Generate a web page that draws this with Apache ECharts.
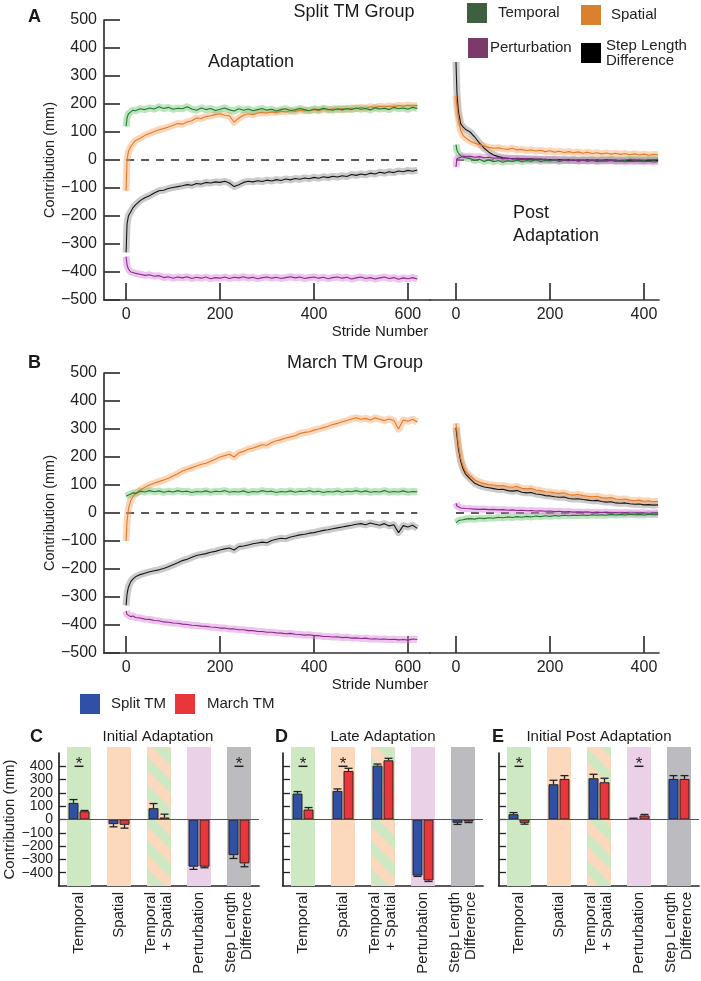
<!DOCTYPE html>
<html><head><meta charset="utf-8">
<script src="https://cdn.jsdelivr.net/npm/echarts@6/dist/echarts.min.js"></script>
<style>html,body{margin:0;padding:0;background:#fff}#c{width:701px;height:981px}</style>
</head><body><div id="c"></div>
<script>
// ---------------- DATA ----------------
const stridesAdapt = [0,2,5,10,15,20,30,40,50,60,70,80,90,100,110,120,130,140,150,160,170,180,190,200,210,220,230,240,250,260,270,280,290,300,310,320,330,340,350,360,370,380,390,400,410,420,430,440,450,460,470,480,490,500,510,520,530,540,550,560,570,580,590,600,610,620];
const stridesPost = [0,2,5,10,15,20,30,40,50,60,70,80,90,100,110,120,130,140,150,160,170,180,190,200,210,220,230,240,250,260,270,280,290,300,310,320,330,340,350,360,370,380,390,400,410,420,430];
const adaptTicks = [0,200,400,600];
const postTicks = [0,200,400];

// Panel A: Split TM group
const splitAdaptTemporal = [120,150,165,172,178,176,183,180,186,182,190,184,188,181,185,183,190,182,178,186,180,184,177,181,186,179,175,183,178,182,176,180,184,178,181,175,180,183,177,179,184,180,176,182,179,185,181,178,183,179,184,180,186,181,184,179,187,182,185,180,188,183,186,181,188,184];
const splitAdaptSpatial = [-110,0,30,48,60,70,78,88,95,102,108,112,118,124,130,128,136,140,150,148,155,158,162,165,160,158,135,150,160,165,162,168,170,168,172,170,174,172,176,173,178,175,177,180,176,181,178,183,180,184,181,186,183,188,185,190,187,192,189,193,190,195,192,196,193,195];
const splitAdaptStep = [-330,-230,-200,-185,-170,-160,-145,-135,-128,-118,-110,-108,-102,-98,-95,-92,-88,-90,-84,-86,-80,-82,-78,-80,-76,-82,-95,-88,-80,-76,-78,-74,-77,-72,-75,-70,-73,-68,-71,-66,-69,-64,-67,-62,-65,-60,-63,-58,-61,-56,-59,-52,-55,-50,-53,-47,-50,-44,-47,-42,-45,-39,-42,-37,-40,-36];
const splitAdaptPert = [-345,-375,-390,-400,-402,-405,-408,-412,-410,-415,-413,-420,-417,-422,-418,-421,-417,-423,-419,-422,-418,-424,-420,-422,-418,-423,-419,-421,-417,-422,-419,-424,-420,-418,-422,-419,-423,-420,-417,-421,-418,-423,-420,-418,-422,-419,-424,-420,-418,-422,-419,-425,-421,-418,-423,-420,-425,-421,-418,-423,-420,-426,-421,-424,-420,-425];
const splitPostTemporal = [55,35,25,15,10,8,5,-2,3,-5,0,-6,-2,-8,-3,-5,0,-6,-2,-4,1,-5,-2,-3,0,-5,-1,-3,2,-4,-1,-3,1,-4,0,-2,2,-3,0,-2,3,-1,1,-2,2,0,3];
const splitPostSpatial = [230,190,150,105,88,80,68,60,55,50,45,42,44,40,38,42,36,38,34,36,32,35,30,33,28,31,27,30,26,29,24,28,23,26,22,25,21,24,20,23,19,22,18,21,17,20,19];
const splitPostStep = [350,240,175,130,118,110,100,82,60,42,28,18,12,8,6,5,4,5,3,4,2,3,1,2,0,2,-1,1,-2,0,-1,1,-2,0,-1,1,-2,0,-3,-1,-2,0,-3,-1,-2,0,-2];
const splitPostPert = [-25,5,12,10,14,12,13,10,12,8,10,6,8,5,7,4,6,3,5,2,4,1,3,0,2,-1,1,-2,0,-3,-1,-4,-2,-5,-3,-4,-2,-5,-3,-6,-4,-5,-3,-6,-4,-7,-5];

// Panel B: March TM group
const marchAdaptTemporal = [60,62,64,68,72,70,78,75,80,76,79,74,78,75,80,76,78,73,77,75,79,74,78,76,80,74,77,75,79,73,77,75,80,76,78,73,77,75,79,74,78,76,80,75,78,73,77,75,79,74,78,76,80,75,79,74,77,75,80,74,77,75,79,74,77,76];
const marchAdaptSpatial = [-100,-30,15,45,60,68,82,92,100,106,112,118,124,132,140,150,156,162,168,174,178,185,192,200,205,210,200,215,220,228,232,238,244,242,252,258,262,268,272,276,284,288,290,296,300,305,310,316,320,326,330,336,340,335,338,332,340,335,330,336,330,300,332,328,335,325];
const marchAdaptStep = [-330,-290,-265,-245,-235,-228,-220,-215,-210,-206,-203,-198,-192,-185,-178,-170,-165,-158,-152,-148,-145,-140,-137,-132,-128,-125,-132,-120,-118,-114,-110,-107,-104,-106,-98,-94,-90,-92,-86,-82,-78,-76,-72,-70,-66,-62,-60,-56,-53,-50,-47,-44,-40,-38,-42,-36,-40,-44,-38,-46,-42,-70,-45,-50,-44,-55];
const marchAdaptPert = [-350,-362,-365,-370,-368,-373,-375,-379,-380,-384,-385,-389,-390,-393,-394,-397,-398,-401,-402,-404,-405,-407,-408,-411,-411,-414,-414,-417,-417,-420,-420,-423,-423,-426,-426,-428,-429,-431,-430,-433,-434,-436,-435,-438,-438,-441,-441,-443,-442,-445,-444,-447,-446,-448,-447,-450,-449,-451,-450,-452,-451,-453,-452,-454,-450,-452];
const marchPostTemporal = [-35,-30,-28,-25,-24,-22,-20,-22,-18,-20,-17,-19,-15,-17,-14,-16,-13,-15,-12,-14,-11,-13,-10,-12,-9,-11,-8,-10,-8,-9,-7,-9,-6,-8,-6,-8,-5,-7,-5,-7,-4,-6,-5,-7,-4,-6,-5];
const marchPostSpatial = [320,290,245,195,168,150,132,118,110,105,102,100,97,98,94,92,95,88,86,88,82,80,76,75,72,70,72,66,64,66,62,60,58,60,55,53,55,50,48,50,46,44,46,42,44,40,42];
const marchPostStep = [305,275,232,185,158,140,122,106,98,93,90,87,84,85,80,78,80,74,72,73,68,66,62,61,58,56,57,52,50,51,48,46,44,45,41,39,40,36,35,36,33,31,32,29,30,28,29];
const marchPostPert = [35,25,20,18,17,16,15,14,13,14,12,13,11,12,10,11,9,10,8,9,7,8,6,7,5,6,4,5,3,4,3,4,2,3,2,3,1,2,1,2,0,1,0,1,-1,0,1];

// Bar panels C, D, E
const barCategories = ['Temporal', 'Spatial', 'Temporal\n+ Spatial', 'Perturbation', 'Step Length\nDifference'];
const barTickValues = [-400,-300,-200,-100,0,100,200,300,400];
const initialSplit = [125, -35, 85, -355, -268];
const initialSplitErr = [25, 20, 35, 20, 25];
const initialMarch = [62, -40, 15, -355, -330];
const initialMarchErr = [6, 25, 25, 8, 25];
const lateSplit = [195, 215, 405, -422, -25];
const lateSplitErr = [15, 15, 12, 6, 12];
const lateMarch = [75, 365, 445, -458, -15];
const lateMarchErr = [15, 20, 15, 8, 8];
const postSplit = [40, 265, 310, 5, 305];
const postSplitErr = [12, 30, 30, 5, 25];
const postMarch = [-25, 305, 280, 30, 305];
const postMarchErr = [10, 25, 30, 8, 25];
const sigInitial = ['Temporal', 'Step Length\nDifference'];
const sigLate = ['Temporal', 'Spatial'];
const sigPost = ['Temporal', 'Perturbation'];

// ---------------- STYLE ----------------
const FONT = '"Liberation Sans", Arial, Helvetica, sans-serif';
const AX = '#333';
const LINE_COL = {Temporal:'#1f7a35', Spatial:'#e07a2a', Perturbation:'#8b2a8c', 'Step Length Difference':'#141414'};
const SHADE_COL = {Temporal:'rgba(110,195,110,0.45)', Spatial:'rgba(248,165,100,0.45)', Perturbation:'rgba(215,125,215,0.45)', 'Step Length Difference':'rgba(140,140,140,0.45)'};
const BLUE = '#3050a6', RED = '#e8363a';

function stripePattern() {
  const s = 28;
  const c = document.createElement('canvas');
  c.width = s; c.height = s;
  const g = c.getContext('2d');
  g.fillStyle = '#fcd8bd'; g.fillRect(0, 0, s, s);
  g.strokeStyle = '#cde8c2'; g.lineWidth = s / (2 * Math.SQRT2);
  for (let k = -2; k <= 2; k++) {
    g.beginPath(); g.moveTo(k * s - s, -s); g.lineTo(k * s + 2 * s, 2 * s); g.stroke();
  }
  return {image: c, repeat: 'repeat'};
}
const BAND_FILLS = ['#cde8c2', '#fcd8bd', stripePattern(), '#ebd1e8', '#bcbcc0'];

const minus = v => (v < 0 ? '\u2212' + Math.abs(v) : String(v));
const barLabel = v => (barTickValues.indexOf(v) >= 0 ? minus(v) : '');
const pairs = (xs, ys) => xs.map((x, i) => [x, ys[i]]);

const grids = [
  {left:104, top:20, width:326, height:280},
  {left:430, top:20, width:229, height:280},
  {left:104, top:373, width:326, height:280},
  {left:430, top:373, width:229, height:280},
  {left:59, top:753, width:200, height:133},
  {left:283, top:753, width:200, height:133},
  {left:499, top:753, width:200, height:133}
];

function lineX(gi, min, max, ticks) {
  return {type:'value', gridIndex:gi, min, max,
    axisLine:{show:true, onZero:false, lineStyle:{color:AX, width:1.7}},
    axisTick:{show:true, inside:true, length:17, customValues:ticks, lineStyle:{color:AX, width:1.7}},
    axisLabel:{customValues:ticks, margin:7, fontSize:16, color:'#222', fontFamily:FONT},
    splitLine:{show:false}};
}
function lineY(gi, show) {
  return {type:'value', gridIndex:gi, min:-500, max:500, interval:100, show,
    axisLine:{show:true, onZero:false, lineStyle:{color:AX, width:1.7}},
    axisTick:{show:true, inside:true, length:16, lineStyle:{color:AX, width:1.7}},
    axisLabel:{margin:7, fontSize:16, color:'#222', fontFamily:FONT, formatter:minus},
    splitLine:{show:false},
    name:'Contribution (mm)', nameLocation:'middle', nameGap:42, nameRotate:90,
    nameTextStyle:{fontSize:14.5, color:'#222', fontFamily:FONT}};
}
function barX(gi) {
  return {type:'category', gridIndex:gi, data:barCategories,
    axisLine:{show:true, onZero:false, lineStyle:{color:'#222', width:1.7}},
    axisTick:{show:false},
    axisLabel:{rotate:90, interval:0, margin:6, fontSize:15, lineHeight:16, color:'#222', fontFamily:FONT},
    splitLine:{show:false}};
}
function barY(gi, labels) {
  return {type:'value', gridIndex:gi, min:-500, max:500, interval:100,
    axisLine:{show:true, onZero:false, lineStyle:{color:'#222', width:1.7}},
    axisTick:{show:true, inside:true, length:7, customValues:barTickValues, lineStyle:{color:'#222', width:1.3}},
    axisLabel:{show:labels, margin:6, fontSize:14, lineHeight:13, color:'#222', fontFamily:FONT, formatter:barLabel,
      hideOverlap:false, showMinLabel:true, showMaxLabel:true},
    splitLine:{show:false},
    name: labels ? 'Contribution (mm)' : '', nameLocation:'middle', nameGap:42, nameRotate:90,
    nameTextStyle:{fontSize:15, color:'#222', fontFamily:FONT}};
}

const series = [];
function addLinePanel(gi, xs, data) {
  series.push({type:'line', name:'zero', xAxisIndex:gi, yAxisIndex:gi, silent:true, symbol:'none', z:1,
    data:[[xs[0], 0], [xs[xs.length - 1], 0]], lineStyle:{color:'#222', width:1.4, type:[8, 7]}});
  const order = ['Step Length Difference', 'Spatial', 'Temporal', 'Perturbation'];
  order.forEach(k => series.push({type:'line', name:k + ' band', xAxisIndex:gi, yAxisIndex:gi, silent:true,
    symbol:'none', z:2, data:pairs(xs, data[k]), lineStyle:{color:SHADE_COL[k], width:7, join:'round'}}));
  order.forEach(k => series.push({type:'line', name:k, xAxisIndex:gi, yAxisIndex:gi, silent:true,
    symbol:'none', z:3, data:pairs(xs, data[k]), itemStyle:{color:LINE_COL[k]},
    lineStyle:{color:LINE_COL[k], width:1.1}}));
}
addLinePanel(0, stridesAdapt, {Temporal:splitAdaptTemporal, Spatial:splitAdaptSpatial, Perturbation:splitAdaptPert, 'Step Length Difference':splitAdaptStep});
addLinePanel(1, stridesPost, {Temporal:splitPostTemporal, Spatial:splitPostSpatial, Perturbation:splitPostPert, 'Step Length Difference':splitPostStep});
addLinePanel(2, stridesAdapt, {Temporal:marchAdaptTemporal, Spatial:marchAdaptSpatial, Perturbation:marchAdaptPert, 'Step Length Difference':marchAdaptStep});
addLinePanel(3, stridesPost, {Temporal:marchPostTemporal, Spatial:marchPostSpatial, Perturbation:marchPostPert, 'Step Length Difference':marchPostStep});

function addBarPanel(gi, split, splitErr, march, marchErr, sig) {
  series.push({type:'custom', name:'bands', xAxisIndex:gi, yAxisIndex:gi, silent:true, z:1,
    data:barCategories.map((c, i) => [i, 0]),
    renderItem:(p, api) => {
      const i = api.value(0);
      const top = api.coord([i, 545]), bot = api.coord([i, -500]);
      return {type:'rect', shape:{x:top[0] - 12, y:top[1], width:24, height:bot[1] - top[1]}, style:{fill:BAND_FILLS[i]}};
    }});
  series.push({type:'bar', name:'Split TM', xAxisIndex:gi, yAxisIndex:gi, z:3, barWidth:10, barGap:'10%',
    data:split, itemStyle:{color:BLUE, borderColor:'#222', borderWidth:1},
    markLine:{silent:true, symbol:'none', label:{show:false}, lineStyle:{color:'#555', width:1, type:'solid'}, data:[{yAxis:0}]}});
  series.push({type:'bar', name:'March TM', xAxisIndex:gi, yAxisIndex:gi, z:3, barWidth:10, barGap:'10%',
    data:march, itemStyle:{color:RED, borderColor:'#222', borderWidth:1}});
  const err = (vals, errs, off) => ({type:'custom', name:'err', xAxisIndex:gi, yAxisIndex:gi, silent:true, z:5,
    data:vals.map((v, i) => [i, v, errs[i]]),
    renderItem:(p, api) => {
      const i = api.value(0), v = api.value(1), e = api.value(2);
      const a = api.coord([i, v]), b = api.coord([i, v + (v >= 0 ? e : -e)]);
      const x = a[0] + off;
      const st = {stroke:'#222', lineWidth:1.3};
      return {type:'group', children:[
        {type:'line', shape:{x1:x, y1:a[1], x2:x, y2:b[1]}, style:st},
        {type:'line', shape:{x1:x - 4, y1:b[1], x2:x + 4, y2:b[1]}, style:st}]};
    }});
  series.push(err(split, splitErr, -5.5));
  series.push(err(march, marchErr, 5.5));
  series.push({type:'custom', name:'sig', xAxisIndex:gi, yAxisIndex:gi, silent:true, z:5,
    data:sig.map(c => [barCategories.indexOf(c), 0]),
    renderItem:(p, api) => {
      const c = api.coord([api.value(0), 400]);
      return {type:'group', children:[
        {type:'line', shape:{x1:c[0] - 4.5, y1:c[1], x2:c[0] + 4.5, y2:c[1]}, style:{stroke:'#222', lineWidth:1.5}},
        {type:'text', x:c[0], y:c[1] - 2, style:{text:'*', fill:'#222', font:'17px ' + FONT, align:'center', verticalAlign:'middle'}}]};
    }});
}
addBarPanel(4, initialSplit, initialSplitErr, initialMarch, initialMarchErr, sigInitial);
addBarPanel(5, lateSplit, lateSplitErr, lateMarch, lateMarchErr, sigLate);
addBarPanel(6, postSplit, postSplitErr, postMarch, postMarchErr, sigPost);

const legText = (pad) => ({fontSize:15, color:'#222', fontFamily:FONT, padding:pad});
function oneLegend(left, top, name, color, pad, extra) {
  return Object.assign({left, top, padding:0, itemWidth:20, itemHeight:20, icon:'rect', selectedMode:false,
    data:[{name, icon:'rect', itemStyle:{color, borderWidth:0}}], textStyle:legText(pad)}, extra || {});
}

const txt = (text, x, y, size, align, bold) => ({type:'text', x, y, silent:true,
  style:{text, font:(bold ? 'bold ' : '') + size + 'px ' + FONT, fill:'#1a1a1a', align, verticalAlign:'middle'}});

const option = {
  animation:false,
  backgroundColor:'#fff',
  grid:grids,
  xAxis:[
    lineX(0, -47, 647, adaptTicks), lineX(1, -55.3, 432, postTicks),
    lineX(2, -47, 647, adaptTicks), lineX(3, -55.3, 432, postTicks),
    barX(4), barX(5), barX(6)
  ],
  yAxis:[lineY(0, true), lineY(1, false), lineY(2, true), lineY(3, false), barY(4, true), barY(5, false), barY(6, false)],
  legend:[
    oneLegend(467, 3, 'Temporal', '#3f5f41', [0,0,0,6]),
    oneLegend(581, 5, 'Spatial', '#d9812f', [0,0,0,5]),
    oneLegend(468, 38, 'Perturbation', '#7b3b6a', [0,0,0,-3]),
    oneLegend(581, 38, 'Step Length Difference', '#000', [34,0,0,0], {formatter:() => 'Step Length\nDifference'}),
    oneLegend(80, 694, 'Split TM', BLUE, [0,0,0,6]),
    oneLegend(175, 694, 'March TM', RED, [0,0,0,7])
  ],
  graphic:[
    txt('A', 28, 17, 18, 'left', true),
    txt('B', 28, 363, 18, 'left', true),
    txt('C', 30, 737, 18, 'left', true),
    txt('D', 275, 737, 18, 'left', true),
    txt('E', 492, 737, 18, 'left', true),
    txt('Split TM Group', 354, 12, 18, 'center'),
    txt('March TM Group', 355, 363, 18, 'center'),
    txt('Adaptation', 251, 62, 18, 'center'),
    txt('Post', 513, 213, 18, 'left'),
    txt('Adaptation', 513, 236, 18, 'left'),
    txt('Stride Number', 380, 332, 15, 'center'),
    txt('Stride Number', 380, 685, 15, 'center'),
    txt('Initial Adaptation', 158, 737, 15, 'center'),
    txt('Late Adaptation', 383, 737, 15, 'center'),
    txt('Initial Post Adaptation', 599, 737, 15, 'center')
  ],
  series
};
const chart = echarts.init(document.getElementById('c'), null, {renderer:'canvas'});
chart.setOption(option);
</script></body></html>
